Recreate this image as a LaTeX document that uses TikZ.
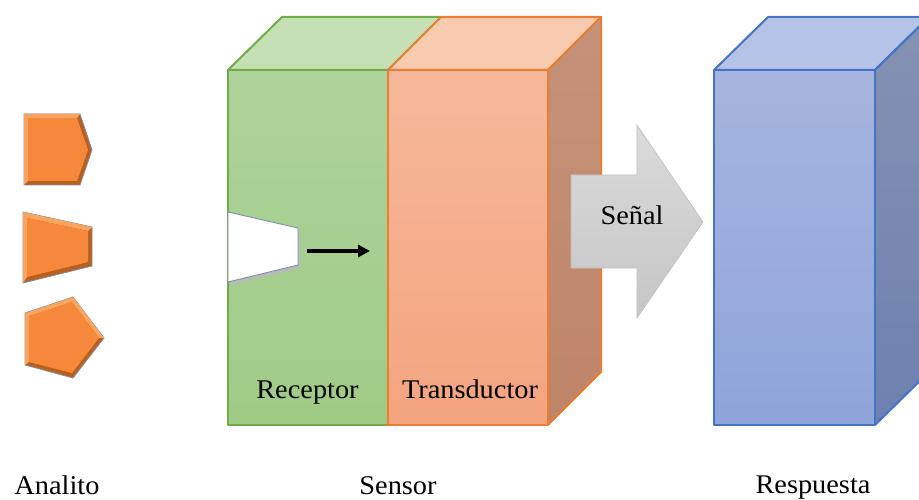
\documentclass[tikz,border=0pt]{standalone}
\usepackage{fontspec}
\setmainfont{Liberation Serif}[FakeStretch=1.05]
\usetikzlibrary{arrows.meta}
\definecolor{gfront}{HTML}{AED39B}
\definecolor{gfrontb}{HTML}{9FCB86}
\definecolor{gtop}{HTML}{C5E0B4}
\definecolor{gline}{HTML}{70AD47}
\definecolor{ofront}{HTML}{F6B89A}
\definecolor{ofrontb}{HTML}{F3A47E}
\definecolor{otop}{HTML}{F8CAB0}
\definecolor{oside}{HTML}{C4937B}
\definecolor{osideb}{HTML}{BF8468}
\definecolor{oline}{HTML}{ED7D31}
\definecolor{bfront}{HTML}{A6B5DF}
\definecolor{bfrontb}{HTML}{8EA4DA}
\definecolor{btop}{HTML}{B5C3E6}
\definecolor{bside}{HTML}{8592B2}
\definecolor{bsideb}{HTML}{6E80B0}
\definecolor{bline}{HTML}{4472C4}
\definecolor{anfill}{HTML}{F5883A}
\definecolor{andark}{HTML}{B9601F}
\definecolor{anlight}{HTML}{F9A560}
\definecolor{anedge}{HTML}{7F8FA6}
\definecolor{sgtop}{HTML}{DADADA}
\definecolor{sgbot}{HTML}{C6C6C6}
\tikzset{
  face/.style={line width=2pt, line join=round},
  lbl/.style={font=\fontsize{27}{30}\selectfont, inner sep=0pt, text=black, anchor=base},
  anouter/.style={fill=andark, draw=anedge, line width=0.8pt},
  aninner/.style={fill=anfill},
}
\begin{document}
\begin{tikzpicture}[x=1pt,y=-1pt]
\useasboundingbox (0,0) rectangle (919,500);
\begin{scope}
\clip (0,0) rectangle (919,500);
% analyte shapes
\draw[anouter] (24,114) -- (80,114) -- (92,150) -- (80,185) -- (24,185) -- cycle;
\fill[anlight] (24,114) -- (80,114) -- (77,118) -- (28,118) -- (28,181) -- (24,185) -- cycle;
\fill[aninner] (28,118) -- (77,118) -- (88,150) -- (77,181) -- (28,181) -- cycle;
\draw[anouter] (23,212) -- (92,227) -- (92,266) -- (23,283) -- cycle;
\fill[anlight] (23,212) -- (92,227) -- (88,231) -- (27,218) -- (27,277) -- (23,283) -- cycle;
\fill[aninner] (27,218) -- (88,231) -- (88,262) -- (27,277) -- cycle;
\draw[anouter] (25,313) -- (73,297) -- (104,338) -- (73,378) -- (25,365) -- cycle;
\fill[anlight] (25,313) -- (73,297) -- (104,338) -- (99,338) -- (72,302) -- (29,316) -- (29,362) -- (25,365) -- cycle;
\fill[aninner] (29,316) -- (72,302) -- (99,338) -- (72,373) -- (29,362) -- cycle;
% green box (receptor)
\draw[face, draw=gline, fill=gtop] (228,70) -- (282,17) -- (441,17) -- (388,70) -- cycle;
\shade[top color=gfront, bottom color=gfrontb] (228,70) rectangle (388,425);
\draw[face, draw=gline] (228,70) rectangle (388,425);
% orange box (transductor)
\draw[face, draw=oline, fill=otop] (388,70) -- (441,17) -- (601,17) -- (548,70) -- cycle;
\shade[top color=oside, bottom color=osideb] (548,70) -- (601,17) -- (601,372) -- (548,425) -- cycle;
\draw[face, draw=oline] (548,70) -- (601,17) -- (601,372) -- (548,425);
\shade[top color=ofront, bottom color=ofrontb] (388,70) rectangle (548,425);
\draw[face, draw=oline] (388,70) rectangle (548,425);
% blue box (respuesta)
\draw[face, draw=bline, fill=btop] (714,70) -- (768,17) -- (929,17) -- (875,70) -- cycle;
\shade[top color=bside, bottom color=bsideb] (875,70) -- (929,17) -- (929,372) -- (875,425) -- cycle;
\draw[face, draw=bline] (875,70) -- (929,17) -- (929,372) -- (875,425);
\shade[top color=bfront, bottom color=bfrontb] (714,70) rectangle (875,425);
\draw[face, draw=bline] (714,70) rectangle (875,425);
% receptor site
\fill[gray!55] (229,215) -- (300,231) -- (300,268) -- (229,285) -- cycle;
\draw[fill=white, draw=anedge, line width=0.9pt] (228,212) -- (298,228) -- (298,265) -- (228,282) -- cycle;
% internal arrow
\coordinate (a1) at (307,251);
\coordinate (a2) at (370,251);
\draw[line width=3.5pt, -{Triangle[length=12pt,width=12pt]}] (a1) -- (a2);
% signal arrow
\shade[top color=sgtop, bottom color=sgbot]
  (571,175) -- (637,175) -- (637,125) -- (703,222) -- (637,318) -- (637,268) -- (571,268) -- cycle;
\draw[gray!50, line width=0.6pt]
  (571,175) -- (637,175) -- (637,125) -- (703,222) -- (637,318) -- (637,268) -- (571,268) -- cycle;
\end{scope}
% labels
\node[lbl] (senal) at (632,225) {Señal};
\node[lbl] (receptor) at (307.5,398) {Receptor};
\node[lbl] (transductor) at (470,398) {Transductor};
\node[lbl] (analito) at (57,494) {Analito};
\node[lbl] (sensor) at (398,494) {Sensor};
\node[lbl] (respuesta) at (813,493) {Respuesta};
\end{tikzpicture}
\end{document}
